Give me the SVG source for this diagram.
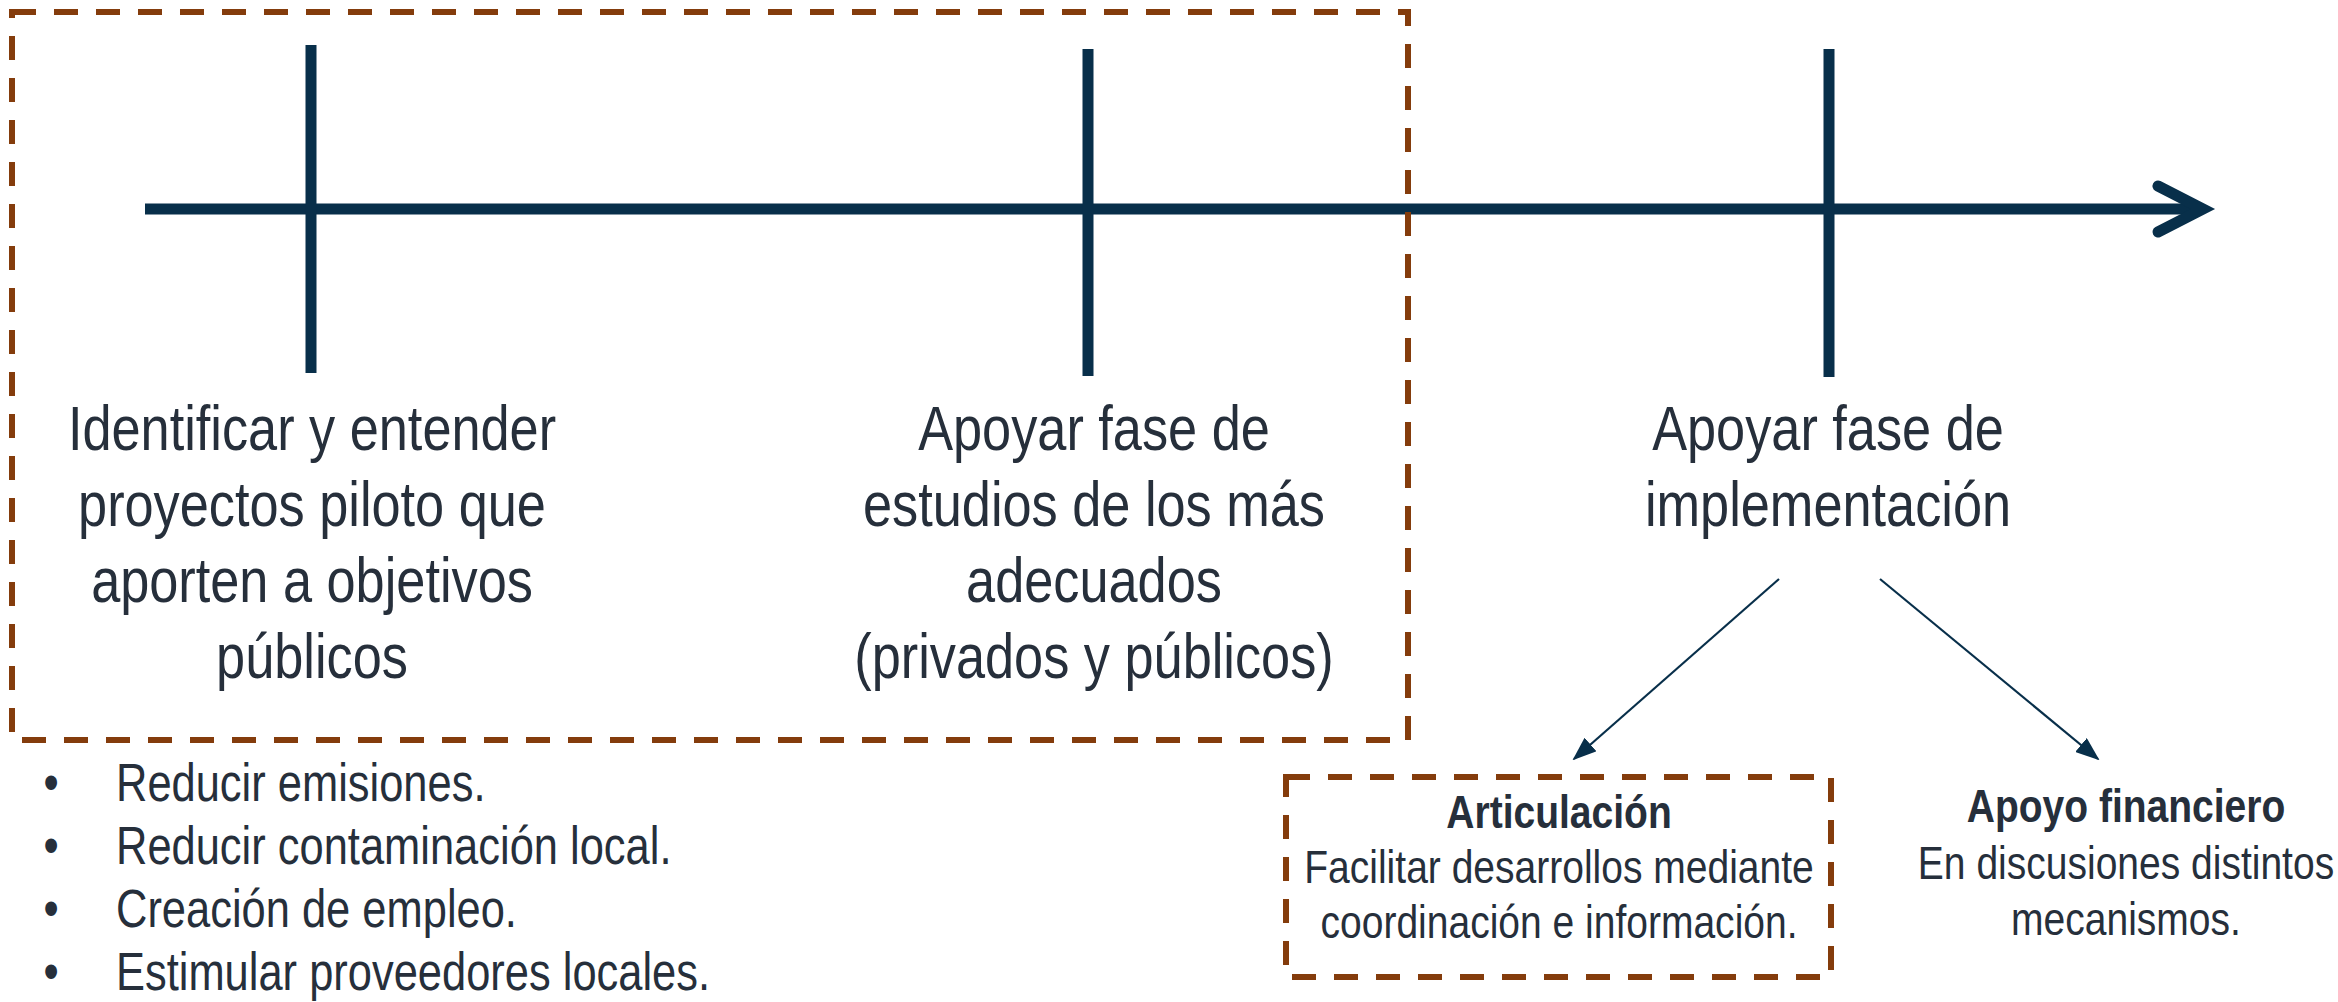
<svg xmlns="http://www.w3.org/2000/svg" width="2338" height="1002" viewBox="0 0 2338 1002">
<style>
.axis{stroke:#082F4A;stroke-width:11;fill:none}
.dash{fill:none;stroke:#843C0C;stroke-width:6;stroke-dasharray:24 18}
.big{font-family:"Liberation Sans",Arial,sans-serif;font-size:63px;fill:#262F3B;text-anchor:middle}
.bul{font-family:"Liberation Sans",Arial,sans-serif;font-size:53px;fill:#262F3B}
.sm{font-family:"Liberation Sans",Arial,sans-serif;font-size:47px;fill:#262F3B;text-anchor:middle}
.b{font-weight:bold}
.conn{stroke:#082F4A;stroke-width:2.2;fill:none}
</style>
<defs>
<marker id="ah" markerUnits="userSpaceOnUse" markerWidth="24" markerHeight="18" viewBox="0 0 24 18" refX="22" refY="9" orient="auto">
<path d="M0,0 L24,9 L0,18 Z" fill="#082F4A"/>
</marker>
</defs>
<rect width="2338" height="1002" fill="#FFFFFF"/>

<g id="timeline">
<line class="axis" x1="145" y1="209" x2="2198" y2="209"/>
<polyline class="axis" points="2158,186 2203,209 2158,232" stroke-linecap="round" stroke-linejoin="miter"/>
<line class="axis" x1="311" y1="45" x2="311" y2="373"/>
<line class="axis" x1="1088" y1="49" x2="1088" y2="376"/>
<line class="axis" x1="1829" y1="49" x2="1829" y2="377"/>
</g>

<g id="group-box">
<rect class="dash" x="12" y="12" width="1396" height="728"/>
</g>

<g id="node-identificar">
<text class="big" transform="translate(312,450) scale(0.83 1)"><tspan x="0" y="0">Identificar y entender</tspan><tspan x="0" y="76">proyectos piloto que</tspan><tspan x="0" y="152">aporten a objetivos</tspan><tspan x="0" y="228">públicos</tspan></text>
</g>

<g id="node-estudios">
<text class="big" transform="translate(1094,450) scale(0.83 1)"><tspan x="0" y="0">Apoyar fase de</tspan><tspan x="0" y="76">estudios de los más</tspan><tspan x="0" y="152">adecuados</tspan><tspan x="0" y="228">(privados y públicos)</tspan></text>
</g>

<g id="node-implementacion">
<text class="big" transform="translate(1828,450) scale(0.83 1)"><tspan x="0" y="0">Apoyar fase de</tspan><tspan x="0" y="76">implementación</tspan></text>
</g>

<g id="node-objetivos">
<text class="bul" text-anchor="middle" transform="translate(51,801) scale(0.82 1)"><tspan x="0" y="0">•</tspan><tspan x="0" y="63">•</tspan><tspan x="0" y="126">•</tspan><tspan x="0" y="189">•</tspan></text>
<text class="bul" transform="translate(116,801) scale(0.82 1)"><tspan x="0" y="0">Reducir emisiones.</tspan><tspan x="0" y="63">Reducir contaminación local.</tspan><tspan x="0" y="126">Creación de empleo.</tspan><tspan x="0" y="189">Estimular proveedores locales.</tspan></text>
</g>

<g id="node-articulacion">
<rect class="dash" x="1286" y="777" width="545" height="200"/>
<text class="sm" transform="translate(1559,828) scale(0.83 1)"><tspan class="b" x="0" y="0">Articulación</tspan><tspan x="0" y="55">Facilitar desarrollos mediante</tspan><tspan x="0" y="110">coordinación e información.</tspan></text>
</g>

<g id="node-financiero">
<text class="sm" transform="translate(2126,822) scale(0.83 1)"><tspan class="b" x="0" y="0">Apoyo financiero</tspan><tspan x="0" y="57">En discusiones distintos</tspan><tspan x="0" y="113">mecanismos.</tspan></text>
</g>

<g id="connectors">
<line class="conn" x1="1779" y1="579" x2="1574" y2="759" marker-end="url(#ah)"/>
<line class="conn" x1="1880" y1="579" x2="2098" y2="759" marker-end="url(#ah)"/>
</g>
</svg>
